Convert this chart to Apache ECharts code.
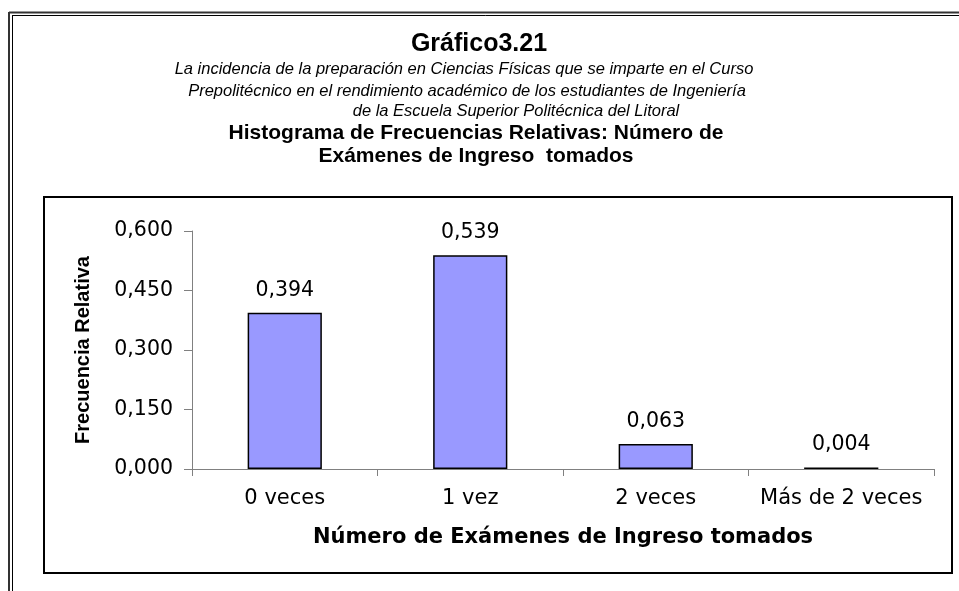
<!DOCTYPE html>
<html>
<head>
<meta charset="utf-8">
<script src="https://cdn.jsdelivr.net/npm/echarts@6/dist/echarts.min.js"></script>
<style>
html, body { margin: 0; padding: 0; background: #fff; }
#chart { width: 959px; height: 591px; }
</style>
</head>
<body>
<div id="chart"></div>
<script>
// datos
var categorias = ['0 veces', '1 vez', '2 veces', 'Más de 2 veces'];
var frecuencias = [0.394, 0.539, 0.063, 0.004];
var ejeY = [0, 0.15, 0.30, 0.45, 0.60];

var tituloLineas = ['Gráfico3.21'];
var subtitulo = [
	'La incidencia de la preparación en Ciencias Físicas que se imparte en el Curso',
	'Prepolitécnico en el rendimiento académico de los estudiantes de Ingeniería',
	'de la Escuela Superior Politécnica del Litoral'
];
var histTitulo = [
	'Histograma de Frecuencias Relativas: Número de',
	'Exámenes de Ingreso  tomados'
];

function coma(v) {
	return v.toFixed(3).replace('.', ',');
}

var fuente = '"Liberation Sans", Arial, sans-serif';
var fuenteAncha = '"DejaVu Sans", Verdana, sans-serif';

var myChart = echarts.init(document.getElementById('chart'));

var option = {
	backgroundColor: '#fff',
	animation: false,
	textStyle: { fontFamily: fuente },
	grid: { left: 192, right: 25, top: 231, bottom: 122 },
	graphic: [
		// borde doble exterior
		{ type: 'line', shape: { x1: 9, y1: 12.5, x2: 959, y2: 12.5 }, style: { stroke: '#333', lineWidth: 2 } },
		{ type: 'line', shape: { x1: 12.5, y1: 15.5, x2: 959, y2: 15.5 }, style: { stroke: '#000', lineWidth: 1 } },
		{ type: 'line', shape: { x1: 9, y1: 12, x2: 9, y2: 591 }, style: { stroke: '#333', lineWidth: 2 } },
		{ type: 'line', shape: { x1: 12.5, y1: 15, x2: 12.5, y2: 591 }, style: { stroke: '#000', lineWidth: 1 } },
		// marco del area del grafico
		{ type: 'rect', shape: { x: 44, y: 197, width: 908, height: 376 }, style: { fill: null, stroke: '#000', lineWidth: 2 } },
		{ type: 'text', x: 479, y: 44, style: { text: tituloLineas[0], font: 'bold 25px ' + fuente, fill: '#000', textAlign: 'center', textVerticalAlign: 'middle' } },
		{ type: 'text', x: 464, y: 69, style: { text: subtitulo[0], font: 'italic 16.5px ' + fuente, fill: '#000', textAlign: 'center', textVerticalAlign: 'middle' } },
		{ type: 'text', x: 467, y: 91, style: { text: subtitulo[1], font: 'italic 16.5px ' + fuente, fill: '#000', textAlign: 'center', textVerticalAlign: 'middle' } },
		{ type: 'text', x: 516, y: 111, style: { text: subtitulo[2], font: 'italic 16.5px ' + fuente, fill: '#000', textAlign: 'center', textVerticalAlign: 'middle' } },
		{ type: 'text', x: 476, y: 133, style: { text: histTitulo[0], font: 'bold 21px ' + fuente, fill: '#000', textAlign: 'center', textVerticalAlign: 'middle' } },
		{ type: 'text', x: 476, y: 156, style: { text: histTitulo[1], font: 'bold 21px ' + fuente, fill: '#000', textAlign: 'center', textVerticalAlign: 'middle' } }
	],
	xAxis: {
		type: 'category',
		data: categorias,
		name: 'Número de Exámenes de Ingreso tomados',
		nameLocation: 'middle',
		nameGap: 58,
		nameTextStyle: { fontSize: 21, fontWeight: 'bold', color: '#000', fontFamily: fuenteAncha },
		axisLine: { lineStyle: { color: '#808080', width: 1 } },
		axisTick: { show: true, length: 7, lineStyle: { color: '#808080' } },
		axisLabel: { interval: 0, fontSize: 21, color: '#000', margin: 19, fontFamily: fuenteAncha }
	},
	yAxis: {
		type: 'value',
		min: 0,
		max: 0.6,
		interval: 0.15,
		name: 'Frecuencia Relativa',
		nameLocation: 'middle',
		nameGap: 99,
		nameTextStyle: { fontSize: 20, fontWeight: 'bold', color: '#000' },
		splitLine: { show: false },
		axisLine: { show: true, lineStyle: { color: '#808080', width: 1 } },
		axisTick: { show: true, length: 8, lineStyle: { color: '#808080' } },
		axisLabel: { fontSize: 20.5, color: '#000', margin: 19, fontFamily: fuenteAncha, formatter: function (v) { return coma(v); } }
	},
	series: [{
		type: 'bar',
		data: frecuencias,
		barWidth: '40%',
		itemStyle: { color: '#9999FF', borderColor: '#000', borderWidth: 1.5 },
		label: {
			show: true,
			position: 'top',
			distance: 12,
			fontSize: 20.5,
			color: '#000',
			fontFamily: fuenteAncha,
			formatter: function (p) { return coma(p.value); }
		}
	}]
};

myChart.setOption(option);
</script>
</body>
</html>
